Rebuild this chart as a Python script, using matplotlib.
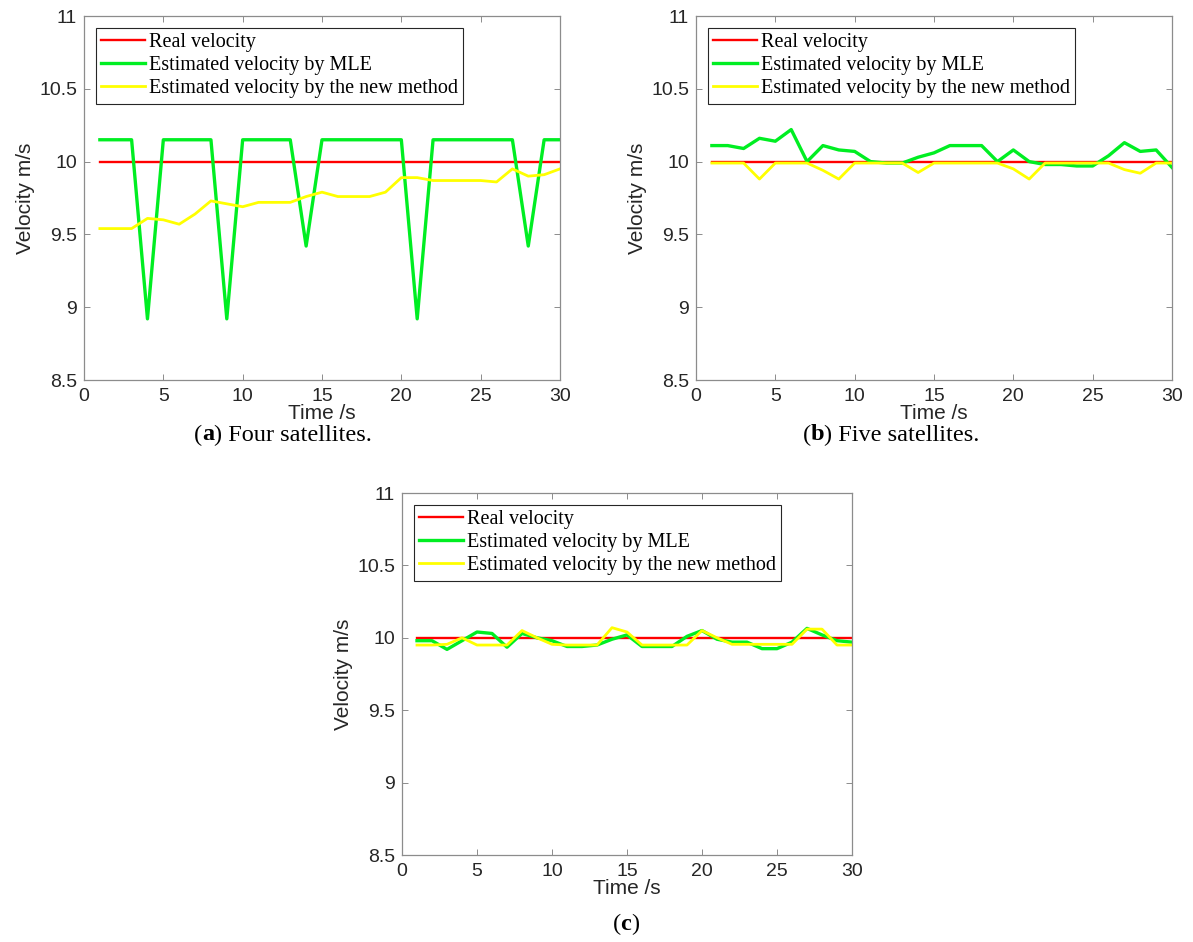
import matplotlib
matplotlib.use("Agg")
import matplotlib.pyplot as plt
import numpy as np

# time axis, one sample per second
t = np.arange(1, 31)

real_v = [10.0] * 30

# (a) four satellites
mle_a = [10.15, 10.15, 10.15, 8.92, 10.15, 10.15, 10.15, 10.15, 8.92, 10.15,
         10.15, 10.15, 10.15, 9.42, 10.15, 10.15, 10.15, 10.15, 10.15, 10.15,
         8.92, 10.15, 10.15, 10.15, 10.15, 10.15, 10.15, 9.42, 10.15, 10.15]
new_a = [9.54, 9.54, 9.54, 9.61, 9.60, 9.57, 9.64, 9.73, 9.71, 9.69,
         9.72, 9.72, 9.72, 9.76, 9.79, 9.76, 9.76, 9.76, 9.79, 9.89,
         9.89, 9.87, 9.87, 9.87, 9.87, 9.86, 9.95, 9.90, 9.91, 9.95]

# (b) five satellites
mle_b = [10.11, 10.11, 10.09, 10.16, 10.14, 10.22, 10.0, 10.11, 10.08, 10.07,
         10.0, 9.99, 9.99, 10.03, 10.06, 10.11, 10.11, 10.11, 10.0, 10.08,
         10.0, 9.98, 9.98, 9.97, 9.97, 10.04, 10.13, 10.07, 10.08, 9.96]
new_b = [9.99, 9.99, 9.99, 9.88, 9.99, 9.99, 9.99, 9.94, 9.88, 9.99,
         9.99, 9.99, 9.99, 9.925, 9.99, 9.99, 9.99, 9.99, 9.99, 9.95,
         9.88, 9.99, 9.99, 9.99, 9.99, 9.99, 9.945, 9.92, 9.99, 9.99]

# (c)
mle_c = [9.98, 9.98, 9.92, 9.98, 10.04, 10.03, 9.935, 10.03, 10.0, 9.98,
         9.94, 9.94, 9.95, 9.99, 10.02, 9.94, 9.94, 9.94, 10.01, 10.05,
         9.99, 9.97, 9.97, 9.925, 9.925, 9.97, 10.065, 10.02, 9.98, 9.97]
new_c = [9.95, 9.95, 9.955, 10.0, 9.95, 9.95, 9.95, 10.05, 10.0, 9.955,
         9.95, 9.95, 9.95, 10.07, 10.04, 9.95, 9.95, 9.95, 9.95, 10.05,
         10.0, 9.955, 9.955, 9.955, 9.955, 9.955, 10.06, 10.06, 9.95, 9.95]

labels = ["Real velocity", "Estimated velocity by MLE",
          "Estimated velocity by the new method"]

W, H = 1193, 942
fig = plt.figure(figsize=(W / 100, H / 100), dpi=100)
fig.patch.set_facecolor("white")

axcol = "#8c8c8c"
txtcol = "#262626"
sans = ["Liberation Sans", "DejaVu Sans"]
serif = ["Liberation Serif", "DejaVu Serif"]


def px_axes(x0, x1, y0, y1):
    return fig.add_axes([x0 / W, 1 - y1 / H, (x1 - x0) / W, (y1 - y0) / H])


def panel(ax, mle, new):
    ax.plot(t, real_v, color="#ff0000", lw=1.7, label=labels[0])
    ax.plot(t, mle, color="#00ee22", lw=2.4, label=labels[1])
    ax.plot(t, new, color="#ffff00", lw=2.0, label=labels[2])
    ax.set_xlim(0, 30)
    ax.set_ylim(8.5, 11)
    ax.set_xticks(range(0, 31, 5))
    ax.set_yticks([8.5, 9, 9.5, 10, 10.5, 11])
    ax.set_yticklabels(["8.5", "9", "9.5", "10", "10.5", "11"])
    ax.tick_params(direction="in", top=True, right=True, length=4,
                   width=0.7, color=axcol, labelsize=14, labelcolor=txtcol)
    ax.tick_params(axis="x", pad=6)
    ax.tick_params(axis="y", pad=5)
    for lab in ax.get_xticklabels() + ax.get_yticklabels():
        lab.set_fontfamily(sans)
    for s in ax.spines.values():
        s.set_color(axcol)
        s.set_linewidth(0.9)
    ax.set_xlabel("Time /s", fontsize=15, color=txtcol, family=sans, labelpad=-1)
    ax.set_ylabel("Velocity m/s", fontsize=15, color=txtcol, family=sans, labelpad=3)
    leg = ax.legend(loc="upper left", prop={"family": serif, "size": 14.5},
                    frameon=True, fancybox=False, handlelength=2.2,
                    handletextpad=0.2, labelspacing=0.2, borderpad=0.25,
                    borderaxespad=0.6)
    leg.get_frame().set_edgecolor("#262626")
    leg.get_frame().set_linewidth(0.8)
    leg.get_frame().set_alpha(1)


ax_a = px_axes(84, 560, 16, 380)
panel(ax_a, mle_a, new_a)
ax_b = px_axes(696, 1172, 16, 380)
panel(ax_b, mle_b, new_b)
ax_c = px_axes(402, 852, 493, 855)
panel(ax_c, mle_c, new_c)


def caption(xc, y, letter, rest, size=17.5):
    # "(" + bold letter + ")" + rest, centred on xc (pixels)
    fig.canvas.draw()
    r = fig.canvas.get_renderer()
    parts = [("(", "normal"), (letter, "bold"), (")" + rest, "normal")]
    texts = []
    x = 0
    for s, w in parts:
        tx = fig.text(x / W, 1 - y / H, s, fontsize=size, family=serif,
                      weight=w, ha="left", va="center")
        bb = tx.get_window_extent(r)
        x += bb.width
        texts.append(tx)
    shift = xc - x / 2
    x = shift
    for tx in texts:
        bb = tx.get_window_extent(r)
        tx.set_x(x / W)
        x += bb.width


caption(283, 435, "a", " Four satellites.")
caption(891, 435, "b", " Five satellites.")
caption(626, 924, "c", "")

fig.savefig("out.png", dpi=100)
